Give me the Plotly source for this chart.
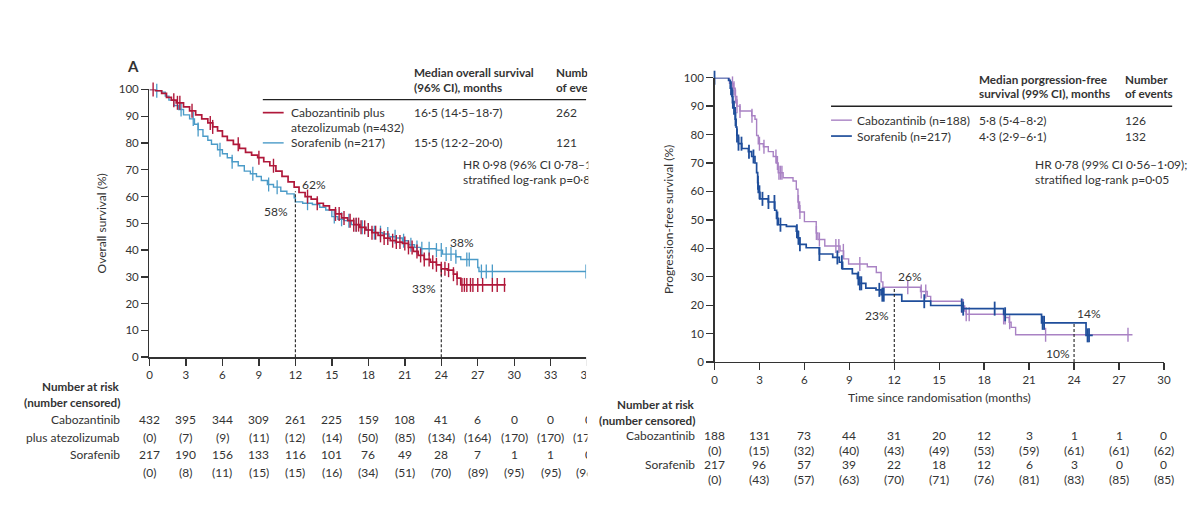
import plotly.graph_objects as go

W, H = 1200, 530
FONT = "Lato"
TXT = "#333333"
FS = 12

# ---------------- Panel A: overall survival ----------------
os_cabo_t = [0, 0.5, 1.0, 1.4, 1.8, 2.2, 2.8, 3.3, 3.8, 4.3, 4.8, 5.2, 5.6, 6.0, 6.4, 6.9, 7.4, 7.9,
             8.4, 8.9, 9.4, 9.9, 10.4, 10.9, 11.4, 11.9, 12.3, 12.8, 13.3, 13.8, 14.3, 14.8, 15.3,
             15.8, 16.3, 16.8, 17.3, 17.8, 18.3, 18.8, 19.3, 19.8, 20.3, 20.8, 21.3, 21.7, 22.1,
             22.6, 23.1, 23.6, 24.0, 24.5, 25.0, 25.3, 25.6, 29.3]
os_cabo_s = [100, 99.5, 98.5, 97, 96, 95, 93.5, 92, 90.5, 89, 87.5, 86, 84.5, 82.5, 81, 79.5, 78, 76.5,
             75.5, 74.5, 73, 71.5, 69.5, 67.5, 65.5, 63.5, 61.5, 60, 59, 57.5, 56.5, 55, 53.5,
             52, 51, 49.5, 48.5, 47.5, 46.5, 45.5, 44.5, 43.5, 43, 42.5, 41, 39.5, 38,
             36.5, 35.5, 34.5, 33, 32.5, 31, 29.5, 27, 27]
os_cabo_cens = [0.3, 2.0, 2.3, 2.5, 3.5, 5.0, 5.2, 7.3, 9.0, 10.2, 13.0, 13.8, 15.3, 15.6, 16.0, 16.5,
                16.8, 17.0, 17.2, 17.4, 17.7, 18.0, 18.3, 18.6, 19.0, 19.3, 19.6, 20.0, 20.3, 20.6,
                21.0, 21.3, 21.6, 22.0, 22.3, 22.6, 23.0, 23.3, 23.6, 24.0, 24.3, 24.6, 25.0, 25.3,
                25.7, 25.9, 26.1, 26.4, 26.6, 27.0, 27.4, 28.2, 28.6, 29.2]

os_sora_t = [0, 0.6, 1.0, 1.3, 1.6, 2.0, 2.4, 2.8, 3.3, 3.7, 4.0, 4.4, 4.8, 5.1, 5.6, 6.0, 6.4, 6.8,
             7.3, 7.8, 8.3, 8.8, 9.2, 9.7, 10.2, 10.8, 11.3, 11.9, 12.0, 12.6, 13.4, 14.0, 14.5,
             15.0, 15.5, 16.0, 16.6, 17.2, 17.8, 18.5, 19.2, 19.7, 20.3, 20.8, 21.3, 21.8, 22.3,
             23.6, 24.1, 25.2, 25.6, 27.0, 27.1, 35.9]
os_sora_s = [100, 99.5, 99, 97.5, 96, 94, 92.5, 90.5, 89, 87, 85, 82.5, 81, 79.5, 77.5, 76, 74.5, 73,
             71.5, 69.5, 68.5, 67.5, 66, 64.5, 63.5, 62, 61, 59.5, 58, 57.5, 57, 56, 55,
             52.5, 51.5, 51, 49.5, 48.5, 47.5, 46.5, 46, 45, 44.5, 43.5, 42, 41, 40.5,
             40, 38.5, 37.5, 36.5, 33.5, 32, 32]
os_sora_cens = [0.6, 2.6, 3.6, 4.0, 5.8, 6.8, 8.5, 9.8, 10.5, 13.0, 15.2, 15.8, 16.4, 17.0, 17.5, 18.0,
                18.5, 19.0, 19.6, 20.2, 20.9, 21.5, 22.0, 22.4, 23.0, 23.6, 24.0, 24.4, 24.8, 25.2,
                26.1, 26.3, 27.3, 27.7, 28.2, 35.9]

os_marks_t = [12, 12, 24, 24]
os_marks_s = [62, 58, 38, 33]
os_mark_labels = ["62%", "58%", "38%", "33%"]

os_risk_t = [0, 3, 6, 9, 12, 15, 18, 21, 24, 27, 30, 33, 36]
os_risk_cabo = [432, 395, 344, 309, 261, 225, 159, 108, 41, 6, 0, 0, 0]
os_cens_cabo = [0, 7, 9, 11, 12, 14, 50, 85, 134, 164, 170, 170, 170]
os_risk_sora = [217, 190, 156, 133, 116, 101, 76, 49, 28, 7, 1, 1, 0]
os_cens_sora = [0, 8, 11, 15, 15, 16, 34, 51, 70, 89, 95, 95, 96]

# ---------------- Panel B: progression-free survival ----------------
pfs_cabo_t = [0, 1.0, 1.16, 1.27, 1.38, 1.49, 1.7, 2.48, 2.7, 2.81, 2.92, 3.26, 3.59, 3.92, 4.14, 4.25,
              4.58, 5.24, 5.46, 5.57, 5.68, 6.0, 6.79, 6.9, 7.36, 8.38, 8.62, 8.95, 10.2, 10.8, 11.12,
              11.24, 13.75, 14.2, 14.43, 16.5, 16.7, 16.8, 19.3, 19.67, 19.8, 20.1, 27.9]
pfs_cabo_s = [100, 98, 98, 96.3, 93.4, 90, 88.3, 86.6, 85.4, 79.7, 76.8, 75.7, 74, 72.3, 70, 66.6,
              64.8, 63.7, 60.8, 56.3, 52.8, 49.4, 45.4, 43.1, 40.8, 39.1, 36.3, 34.5, 33.5, 31.5, 28.2,
              26.3, 24.8, 23.1, 21.4, 19.7, 17.9, 16.8, 15.7, 14, 12.2, 9.6, 9.6]
pfs_cabo_cens = [1.2, 1.3, 1.4, 1.5, 1.7, 2.5, 3.0, 3.3, 4.1, 4.2, 4.3, 4.4, 4.5, 5.6, 5.7, 6.8, 7.0,
                 8.1, 8.3, 8.6, 9.7, 12.9, 13.8, 14.1, 16.5, 16.6, 16.8, 17.0, 19.3, 19.4, 19.7,
                 22.1, 27.6]

pfs_sora_t = [0, 0.94, 1.05, 1.16, 1.22, 1.38, 1.44, 1.49, 1.6, 1.82, 2.26, 2.48, 2.7, 2.81, 2.88,
              2.92, 3.03, 3.59, 4.02, 4.14, 4.25, 4.8, 5.46, 5.57, 5.68, 6.12, 7.0, 7.89, 8.33, 8.55,
              9.2, 9.54, 9.64, 10.1, 10.78, 11.12, 12.5, 14.43, 16.6, 19.3, 21.83, 24.8, 25.25]
pfs_sora_s = [100, 99.1, 96.3, 93.4, 89.4, 85.4, 82.6, 79.7, 76.8, 75.1, 74, 72.3, 70, 66.6, 63.1,
              59.7, 57.4, 56.3, 53.4, 50.5, 48.3, 47.7, 46, 43.7, 41.4, 40.2, 38, 36.8, 35.1, 32.8,
              31.1, 29.4, 27.7, 26, 25.4, 23.7, 21.4, 19.9, 18.8, 16.8, 13.8, 9.4, 9.4]
pfs_sora_cens = [0.0, 1.1, 1.2, 1.3, 1.4, 1.5, 1.6, 1.8, 2.3, 2.6, 2.9, 3.0, 3.2, 3.6, 4.0, 4.2, 4.4,
                 5.5, 5.6, 5.7, 7.0, 8.2, 8.5, 9.6, 9.7, 9.8, 11.0, 11.2, 11.3, 14.0, 16.5, 16.6,
                 18.7, 19.4, 21.9, 22.0, 24.9, 25.0]

pfs_marks_t = [12, 12, 24, 24]
pfs_marks_s = [26, 23, 14, 10]
pfs_mark_labels = ["26%", "23%", "14%", "10%"]

pfs_risk_t = [0, 3, 6, 9, 12, 15, 18, 21, 24, 27, 30]
pfs_risk_cabo = [188, 131, 73, 44, 31, 20, 12, 3, 1, 1, 0]
pfs_cens_cabo = [0, 15, 32, 40, 43, 49, 53, 59, 61, 61, 62]
pfs_risk_sora = [217, 96, 57, 39, 22, 18, 12, 6, 3, 0, 0]
pfs_cens_sora = [0, 43, 57, 63, 70, 71, 76, 81, 83, 85, 85]

# colours
RED, LBLUE = "#b0183a", "#4b9bc8"
PURPLE, DBLUE = "#a982c4", "#1f4e9b"

CLIP = 588.0  # the source picture of panel A is cut here


def px(x, y):
    return x / W, 1 - y / H


def step_at(ts, ss, t):
    v = ss[0]
    for ti, si in zip(ts, ss):
        if ti <= t:
            v = si
    return v


fig = go.Figure()


def add_km(t, s, cens, color, width, mwidth, xa, ya):
    fig.add_trace(go.Scatter(x=t, y=s, mode="lines", line=dict(color=color, width=width, shape="hv"),
                             xaxis=xa, yaxis=ya, hoverinfo="skip", cliponaxis=False))
    fig.add_trace(go.Scatter(x=cens, y=[step_at(t, s, c) for c in cens], mode="markers",
                             marker=dict(symbol="line-ns", size=10, line=dict(color=color, width=mwidth)),
                             xaxis=xa, yaxis=ya, hoverinfo="skip", cliponaxis=False))


add_km(os_sora_t, os_sora_s, os_sora_cens, LBLUE, 1.4, 1.3, "x", "y")
add_km(os_cabo_t, os_cabo_s, os_cabo_cens, RED, 1.7, 1.4, "x", "y")
add_km(pfs_cabo_t, pfs_cabo_s, pfs_cabo_cens, PURPLE, 1.4, 1.4, "x2", "y2")
add_km(pfs_sora_t, pfs_sora_s, pfs_sora_cens, DBLUE, 1.7, 1.8, "x2", "y2")

# dashed landmark lines
for tt, top in [(12, max(os_marks_s[0:2])), (24, min(os_marks_s[2:4]))]:
    fig.add_trace(go.Scatter(x=[tt, tt], y=[0, top], mode="lines",
                             line=dict(color="#222", width=1.1, dash="3px,2px"),
                             xaxis="x", yaxis="y", hoverinfo="skip"))
for tt, top in [(12, max(pfs_marks_s[0:2])), (24, max(pfs_marks_s[2:4]))]:
    fig.add_trace(go.Scatter(x=[tt, tt], y=[0, top], mode="lines",
                             line=dict(color="#222", width=1.1, dash="3px,2px"),
                             xaxis="x2", yaxis="y2", hoverinfo="skip"))

# axes
A_L, A_R, A_B, A_T = 147.7, 589.1, 359.0, 84.5
B_L, B_R, B_B, B_T = 717.5, 1170.7, 364.0, 72.5
axcommon = dict(showgrid=False, zeroline=False, showline=True, linecolor="#333", linewidth=1.4,
                ticks="outside", ticklen=7, tickwidth=1.4, tickcolor="#333",
                tickfont=dict(family=FONT, size=11.5, color=TXT), fixedrange=True)
fig.update_layout(
    xaxis=dict(domain=[A_L / W, A_R / W], range=[0, 36], tickvals=os_risk_t, anchor="y", **axcommon),
    yaxis=dict(domain=[1 - A_B / H, 1 - A_T / H], range=[0, 100], tickvals=list(range(0, 101, 10)),
               anchor="x", **axcommon),
    xaxis2=dict(domain=[B_L / W, B_R / W], range=[0, 30], tickvals=pfs_risk_t, anchor="y2", **axcommon),
    yaxis2=dict(domain=[1 - B_B / H, 1 - B_T / H], range=[0, 100], tickvals=list(range(0, 101, 10)),
                anchor="x2", **axcommon),
)

shapes = []
shapes.append(dict(type="rect", xref="paper", yref="paper", x0=CLIP / W, x1=598 / W, y0=0, y1=1,
                   fillcolor="white", line=dict(width=0), layer="above"))


def hline(x0, x1, y, color, width):
    a = px(x0, y)
    b = px(x1, y)
    shapes.append(dict(type="line", xref="paper", yref="paper", x0=a[0], y0=a[1], x1=b[0], y1=b[1],
                       line=dict(color=color, width=width)))


hline(262, CLIP, 95, "#222", 1.4)
hline(262, 283, 108.3, RED, 1.7)
hline(262, 283, 139.3, LBLUE, 1.4)
hline(835, 1179, 101.7, "#222", 1.4)
hline(835, 856, 116, PURPLE, 1.4)
hline(835, 856, 132.3, DBLUE, 1.7)
fig.update_layout(shapes=shapes)

ann = []


def text(x, y, s, anchor="left", size=FS, bold=False, angle=0, clip_to=None):
    xx, yy = px(x, y)
    d = dict(x=xx, y=yy, xref="paper", yref="paper", text=f"<b>{s}</b>" if bold else s,
             showarrow=False, xanchor=anchor, yanchor="middle", textangle=angle, borderpad=0,
             font=dict(family=FONT, size=size, color=TXT))
    if clip_to is not None:
        d.update(width=clip_to - x, align="left")
    ann.append(d)


BS = 11.7  # bold header size

# Panel A header / legend
text(131, 60, "A", "center", 15, True)
text(413, 66.7, "Median overall survival", size=BS, bold=True)
text(413, 81.7, "(96% CI), months", size=BS, bold=True)
text(556.7, 66.7, "Number", size=BS, bold=True, clip_to=CLIP)
text(556.7, 81.7, "of events", size=BS, bold=True, clip_to=CLIP)
text(289, 108.3, "Cabozantinib plus")
text(289, 124, "atezolizumab (n=432)")
text(289, 139.3, "Sorafenib (n=217)")
text(413, 108.3, "16·5 (14·5–18·7)")
text(413, 139.3, "15·5 (12·2–20·0)")
text(556.7, 108.3, "262")
text(556.7, 139.3, "121")
text(462.7, 161.7, "HR 0·98 (96% CI 0·78–1·24);", clip_to=CLIP)
text(462.7, 176.7, "stratified log-rank p=0·87", clip_to=CLIP)
text(99, 221.7, "Overall survival (%)", "center", angle=-90)
for lab, (x, y) in zip(os_mark_labels, [(313.3, 181.7), (275, 210), (462.7, 241), (424.3, 288.3)]):
    text(x, y, lab, "center")
text(119, 388.3, "Number at risk", "right", size=BS, bold=True)
text(119, 405, "(number censored)", "right", size=BS, bold=True)
text(119, 423.3, "Cabozantinib", "right")
text(119, 441.7, "plus atezolizumab", "right")
text(119, 458.3, "Sorafenib", "right")

# Panel B header / legend
text(982.7, 73.3, "Median porgression-free", size=BS, bold=True)
text(982.7, 88.3, "survival (99% CI), months", size=BS, bold=True)
text(1130, 73.3, "Number", size=BS, bold=True)
text(1130, 88.3, "of events", size=BS, bold=True)
text(860.4, 116, "Cabozantinib (n=188)")
text(860.4, 132.3, "Sorafenib (n=217)")
text(982.7, 116, "5·8 (5·4–8·2)")
text(982.7, 132.3, "4·3 (2·9–6·1)")
text(1130, 116, "126")
text(1130, 132.3, "132")
text(1039.5, 161.7, "HR 0·78 (99% CI 0·56–1·09);")
text(1039.5, 176.7, "stratified log-rank p=0·05")
text(671, 218, "Progression-free survival (%)", "center", angle=-90)
text(944, 400, "Time since randomisation (months)", "center")
for lab, (x, y) in zip(pfs_mark_labels, [(914.8, 276), (881.4, 316.7), (1095, 314.3), (1063.6, 355)]):
    text(x, y, lab, "center")
text(699, 406.7, "Number at risk", "right", size=BS, bold=True)
text(699, 423.3, "(number censored)", "right", size=BS, bold=True)
text(699, 439, "Cabozantinib", "right")
text(699, 469.3, "Sorafenib", "right")


# risk tables, positioned on each panel's own time axis
def risk_row(times, vals, fmt, xref, row_y, x0, x1):
    for t, v in zip(times, vals):
        s = fmt.format(v)
        if xref == "x" and t == max(times):
            # column that is cut by the edge of the source picture
            cx = x0 + (x1 - x0) * t / max(times)
            wtxt = len(s) * FS * 0.52
            text(cx - wtxt / 2, row_y, s, "left", clip_to=CLIP)
        else:
            ann.append(dict(x=t, y=1 - row_y / H, xref=xref, yref="paper", text=s, showarrow=False,
                            xanchor="center", yanchor="middle", borderpad=0,
                            font=dict(family=FONT, size=FS, color=TXT)))


risk_row(os_risk_t, os_risk_cabo, "{}", "x", 423.3, A_L, A_R)
risk_row(os_risk_t, os_cens_cabo, "({})", "x", 441.7, A_L, A_R)
risk_row(os_risk_t, os_risk_sora, "{}", "x", 458.3, A_L, A_R)
risk_row(os_risk_t, os_cens_sora, "({})", "x", 477.3, A_L, A_R)
risk_row(pfs_risk_t, pfs_risk_cabo, "{}", "x2", 439.0, B_L, B_R)
risk_row(pfs_risk_t, pfs_cens_cabo, "({})", "x2", 454.3, B_L, B_R)
risk_row(pfs_risk_t, pfs_risk_sora, "{}", "x2", 469.3, B_L, B_R)
risk_row(pfs_risk_t, pfs_cens_sora, "({})", "x2", 484.3, B_L, B_R)

fig.update_layout(annotations=ann, width=W, height=H, margin=dict(l=0, r=0, t=0, b=0),
                  paper_bgcolor="white", plot_bgcolor="white", showlegend=False,
                  font=dict(family=FONT, size=FS, color=TXT))

fig.write_html("out.html", config={"displayModeBar": False, "staticPlot": True},
               post_script="document.body.style.margin='0';document.body.style.overflow='hidden';")
